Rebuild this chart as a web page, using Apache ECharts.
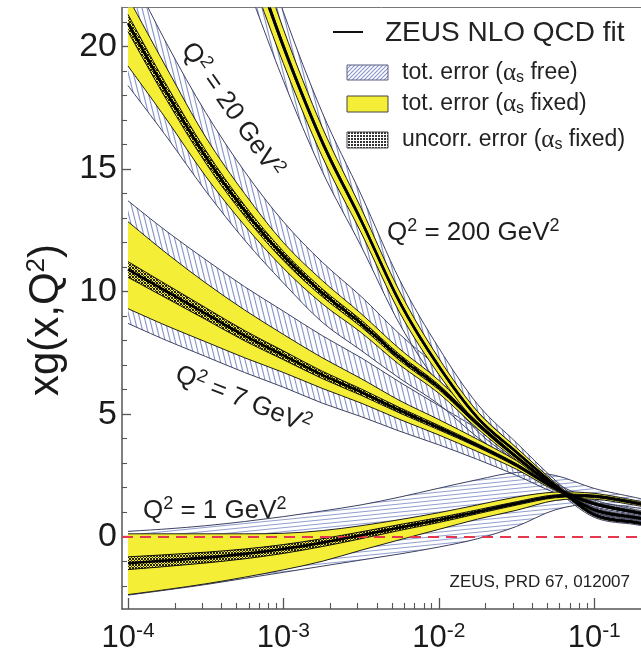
<!DOCTYPE html>
<html>
<head>
<meta charset="utf-8">
<script src="https://cdn.jsdelivr.net/npm/echarts@6/dist/echarts.min.js"></script>
<style>
  html, body { margin: 0; padding: 0; background: #ffffff; }
  #chart { width: 641px; height: 654px; }
</style>
</head>
<body>
<div id="chart"></div>
<script>
// log10(x) positions at which the gluon momentum densities are tabulated
const LOG_X = [-4, -3.75, -3.5, -3.25, -3, -2.75, -2.5, -2.25, -2, -1.75, -1.5, -1.25, -1, -0.75, -0.69];

// Q^2 = 1 GeV^2
const Q1_FIT       = [-1.08, -0.97, -0.85, -0.70, -0.50, -0.24, 0.06, 0.38, 0.68, 1.02, 1.36, 1.65, 1.65, 1.40, 1.32];
const Q1_FIXED_LO  = [-2.36, -2.15, -1.92, -1.65, -1.35, -1.00, -0.55, -0.12, 0.30, 0.72, 1.08, 1.48, 1.53, 1.30, 1.22];
const Q1_FIXED_HI  = [0.12, 0.12, 0.12, 0.12, 0.14, 0.25, 0.45, 0.70, 0.98, 1.30, 1.62, 1.82, 1.77, 1.50, 1.42];
const Q1_FREE_LO   = [-2.38, -2.17, -1.95, -1.70, -1.45, -1.20, -0.95, -0.70, -0.42, -0.08, 0.42, 1.10, 1.35, 1.20, 1.12];
const Q1_FREE_HI   = [0.22, 0.32, 0.45, 0.62, 0.82, 1.05, 1.30, 1.62, 1.98, 2.33, 2.62, 2.50, 1.97, 1.62, 1.54];
const Q1_UNCORR    = [0.26, 0.24, 0.22, 0.20, 0.18, 0.16, 0.14, 0.12, 0.10, 0.08, 0.07, 0.06, 0.05, 0.05, 0.05];

// Q^2 = 7 GeV^2
const Q7_FIT       = [10.9, 10.0, 9.1, 8.2, 7.4, 6.6, 5.9, 5.15, 4.45, 3.72, 2.92, 1.97, 1.35, 1.02, 0.95];
const Q7_FIXED_LO  = [9.3, 8.6, 7.95, 7.3, 6.7, 6.05, 5.45, 4.78, 4.15, 3.47, 2.75, 1.88, 1.29, 0.97, 0.90];
const Q7_FIXED_HI  = [12.85, 11.55, 10.35, 9.25, 8.25, 7.3, 6.45, 5.55, 4.78, 3.97, 3.1, 2.07, 1.42, 1.08, 1.01];
const Q7_FREE_LO   = [8.7, 8.0, 7.35, 6.7, 6.1, 5.45, 4.9, 4.3, 3.75, 3.15, 2.5, 1.78, 1.22, 0.92, 0.85];
const Q7_FREE_HI   = [13.7, 12.45, 11.3, 10.2, 9.2, 8.2, 7.3, 6.3, 5.35, 4.4, 3.4, 2.2, 1.5, 1.13, 1.06];
const Q7_UNCORR    = [0.32, 0.28, 0.24, 0.21, 0.18, 0.15, 0.13, 0.11, 0.09, 0.07, 0.06, 0.05, 0.04, 0.04, 0.04];

// Q^2 = 20 GeV^2
const Q20_FIT      = [20.95, 18.1, 15.5, 13.3, 11.45, 9.95, 8.7, 7.3, 6.1, 4.6, 3.25, 2.02, 1.10, 0.80, 0.74];
const Q20_FIXED_LO = [19.2, 17.0, 14.7, 12.7, 10.95, 9.5, 8.33, 7.0, 5.85, 4.4, 3.12, 1.96, 1.05, 0.76, 0.70];
const Q20_FIXED_HI = [22.0, 19.1, 16.3, 14.0, 12.0, 10.45, 9.1, 7.65, 6.38, 4.8, 3.4, 2.09, 1.15, 0.84, 0.78];
const Q20_FREE_LO  = [18.4, 16.3, 14.1, 12.1, 10.35, 8.75, 7.6, 6.45, 5.4, 4.05, 2.95, 1.90, 1.00, 0.72, 0.66];
const Q20_FREE_HI  = [23.2, 20.1, 17.3, 14.9, 12.85, 11.2, 9.8, 8.25, 6.85, 5.1, 3.6, 2.16, 1.20, 0.88, 0.82];
const Q20_UNCORR   = [0.35, 0.30, 0.26, 0.22, 0.19, 0.16, 0.14, 0.12, 0.10, 0.08, 0.06, 0.05, 0.04, 0.04, 0.04];

// Q^2 = 200 GeV^2 (leaves the frame above x ~ 8e-4)
const Q200_FIT      = [null, null, null, 24.5, 20.0, 16.1, 12.9, 9.55, 6.95, 4.85, 3.45, 2.10, 0.90, 0.60, 0.54];
const Q200_FIXED_LO = [null, null, null, 23.6, 19.3, 15.5, 12.4, 9.12, 6.62, 4.6, 3.27, 2.00, 0.84, 0.55, 0.49];
const Q200_FIXED_HI = [null, null, null, 25.4, 20.7, 16.7, 13.4, 9.98, 7.28, 5.1, 3.63, 2.20, 0.96, 0.65, 0.59];
const Q200_FREE_LO  = [null, null, null, 22.8, 18.6, 14.9, 11.85, 8.65, 6.2, 4.3, 3.07, 1.90, 0.79, 0.51, 0.45];
const Q200_FREE_HI  = [null, null, null, 26.2, 21.4, 17.3, 13.95, 10.45, 7.7, 5.4, 3.83, 2.30, 1.01, 0.69, 0.63];
const Q200_UNCORR   = [null, null, null, 0.15, 0.12, 0.10, 0.08, 0.07, 0.06, 0.05, 0.04, 0.03, 0.03, 0.03, 0.03];

// axis ticks
const X_DECADES = [-4, -3, -2, -1];
const Y_TICKS = [0, 5, 10, 15, 20];

const X_MIN = -4.0386, X_MAX = -0.699;
const Y_MIN = -2.947, Y_MAX = 21.585;

const FONT = '"Liberation Sans", Arial, Helvetica, sans-serif';
const SERIF = '"Liberation Serif", "DejaVu Serif", serif';
const YELLOW = '#f5ee36';
const HATCH_INK = '#8593c9';

// ---- fill patterns ----
function tile(w, h, paint) {
  const c = document.createElement('canvas');
  c.width = w; c.height = h;
  paint(c.getContext('2d'));
  return { image: c, repeat: 'repeat' };
}
// steep "\" hatching for the falling bands
const steepHatch = tile(5, 20, g => {
  g.strokeStyle = HATCH_INK; g.lineWidth = 1.1;
  [-5, 0, 5].forEach(dx => { g.beginPath(); g.moveTo(dx, 0); g.lineTo(dx + 5, 20); g.stroke(); });
});
// nearly flat hatching for the rising low-Q2 band
const flatHatch = tile(40, 4, g => {
  g.strokeStyle = HATCH_INK; g.lineWidth = 0.9;
  [-4, 0, 4].forEach(dy => { g.beginPath(); g.moveTo(0, 4 + dy); g.lineTo(40, dy); g.stroke(); });
});
// stippled fill for the uncorrelated error
const stipple = tile(3, 3, g => {
  g.fillStyle = 'rgba(15,15,15,0.92)'; g.fillRect(0, 0, 2, 2); g.fillRect(2, 2, 1, 1);
});
const legendHatch = tile(4, 4, g => {
  g.strokeStyle = HATCH_INK; g.lineWidth = 1.1;
  [[-1, 1, 1, -1], [0, 4, 4, 0], [3, 5, 5, 3]].forEach(s => {
    g.beginPath(); g.moveTo(s[0], s[1]); g.lineTo(s[2], s[3]); g.stroke();
  });
});
const legendStipple = tile(3, 3, g => {
  g.fillStyle = '#ffffff'; g.fillRect(0, 0, 3, 3);
  g.fillStyle = '#333333'; g.fillRect(0, 0, 2, 2);
});

// ---- drawing helpers ----
// Catmull-Rom curve through pixel points, written as cubic Bezier path commands
function curvePath(pts, start) {
  let d = start + pts[0][0].toFixed(2) + ' ' + pts[0][1].toFixed(2);
  for (let i = 0; i < pts.length - 1; i++) {
    const p0 = pts[i - 1] || pts[i], p1 = pts[i], p2 = pts[i + 1], p3 = pts[i + 2] || p2;
    const c1x = p1[0] + (p2[0] - p0[0]) / 6, c1y = p1[1] + (p2[1] - p0[1]) / 6;
    const c2x = p2[0] - (p3[0] - p1[0]) / 6, c2y = p2[1] - (p3[1] - p1[1]) / 6;
    d += ' C' + [c1x, c1y, c2x, c2y, p2[0], p2[1]].map(v => v.toFixed(2)).join(' ');
  }
  return d;
}
function clipRect(params) {
  const cs = params.coordSys;
  return { type: 'rect', shape: { x: cs.x, y: cs.y, width: cs.width, height: cs.height } };
}
// band between two boundaries: rows of [log10 x, low, high]
function bandSeries(lo, hi, fill, edge, edgeWidth, z) {
  const rows = [];
  LOG_X.forEach((L, i) => { if (lo[i] !== null) rows.push([L, lo[i], hi[i]]); });
  return {
    type: 'custom', coordinateSystem: 'cartesian2d', silent: true, animation: false, z: z,
    data: rows, encode: { x: 0, y: [1, 2] },
    renderItem: (params, api) => {
      if (params.dataIndex !== 0) return null;
      const up = rows.map(r => api.coord([r[0], r[2]]));
      const dn = rows.map(r => api.coord([r[0], r[1]]));
      const area = curvePath(up, 'M') + ' ' + curvePath(dn.slice().reverse(), 'L') + ' Z';
      return {
        type: 'group', clipPath: clipRect(params),
        children: [
          { type: 'path', shape: { pathData: area }, style: { fill: fill, stroke: null } },
          { type: 'path', shape: { pathData: curvePath(up, 'M') }, style: { fill: null, stroke: edge, lineWidth: edgeWidth } },
          { type: 'path', shape: { pathData: curvePath(dn, 'M') }, style: { fill: null, stroke: edge, lineWidth: edgeWidth } }
        ]
      };
    }
  };
}
function fitSeries(vals, z) {
  const rows = [];
  LOG_X.forEach((L, i) => { if (vals[i] !== null) rows.push([L, vals[i]]); });
  return {
    type: 'custom', coordinateSystem: 'cartesian2d', silent: true, animation: false, z: z,
    data: rows, encode: { x: 0, y: 1 },
    renderItem: (params, api) => {
      if (params.dataIndex !== 0) return null;
      const pts = rows.map(r => api.coord([r[0], r[1]]));
      return {
        type: 'group', clipPath: clipRect(params),
        children: [{ type: 'path', shape: { pathData: curvePath(pts, 'M') }, style: { fill: null, stroke: '#000000', lineWidth: 2.6 } }]
      };
    }
  };
}
function shifted(center, err, sign) {
  return center.map((v, i) => (v === null ? null : v + sign * err[i]));
}

const CURVES = [
  { fit: Q1_FIT, fLo: Q1_FIXED_LO, fHi: Q1_FIXED_HI, aLo: Q1_FREE_LO, aHi: Q1_FREE_HI, unc: Q1_UNCORR, hatch: flatHatch },
  { fit: Q7_FIT, fLo: Q7_FIXED_LO, fHi: Q7_FIXED_HI, aLo: Q7_FREE_LO, aHi: Q7_FREE_HI, unc: Q7_UNCORR, hatch: steepHatch },
  { fit: Q20_FIT, fLo: Q20_FIXED_LO, fHi: Q20_FIXED_HI, aLo: Q20_FREE_LO, aHi: Q20_FREE_HI, unc: Q20_UNCORR, hatch: steepHatch },
  { fit: Q200_FIT, fLo: Q200_FIXED_LO, fHi: Q200_FIXED_HI, aLo: Q200_FREE_LO, aHi: Q200_FREE_HI, unc: Q200_UNCORR, hatch: steepHatch }
];

const series = [];
CURVES.forEach(c => series.push(bandSeries(c.aLo, c.aHi, c.hatch, '#3d4160', 1, 2)));
CURVES.forEach(c => series.push(bandSeries(c.fLo, c.fHi, YELLOW, '#1c1c1c', 1, 3)));
CURVES.forEach(c => series.push(bandSeries(shifted(c.fit, c.unc, -1), shifted(c.fit, c.unc, 1), stipple, '#111111', 1, 4)));
CURVES.forEach(c => series.push(fitSeries(c.fit, 5)));
// xg = 0 reference line
series.push({
  type: 'line', data: [], silent: true, animation: false, z: 8,
  markLine: {
    silent: true, symbol: 'none', animation: false, label: { show: false },
    lineStyle: { color: '#e5384f', width: 2, type: [11, 7] },
    data: [{ yAxis: 0 }]
  }
});

// minor tick positions on the log-x axis (2..9 within each decade)
const X_MINOR = [];
X_DECADES.forEach(n => { for (let k = 2; k <= 9; k++) { const p = n + Math.log10(k); if (p < X_MAX) X_MINOR.push(p); } });
const Y_MINOR = [];
for (let v = -2; v <= 21; v++) if (v % 5 !== 0) Y_MINOR.push(v);

const AXIS_INK = '#555555';
const option = {
  backgroundColor: '#ffffff',
  animation: false,
  grid: { left: 122, right: 0, top: 7.5, bottom: 43, containLabel: false },
  xAxis: [
    {
      type: 'value', min: X_MIN, max: X_MAX, position: 'bottom',
      axisLine: { show: true, onZero: false, lineStyle: { color: AXIS_INK, width: 1.5 } },
      axisTick: { show: true, inside: true, length: 11, customValues: X_DECADES, lineStyle: { color: AXIS_INK, width: 1.3 } },
      axisLabel: {
        show: true, customValues: X_DECADES, margin: 12, color: '#1a1a1a',
        formatter: v => '{b|10}{e|' + Math.round(v) + '}',
        rich: {
          b: { fontSize: 31, fontFamily: FONT, color: '#1a1a1a' },
          e: { fontSize: 21, fontFamily: FONT, color: '#1a1a1a', padding: [0, 0, 14, 0] }
        }
      },
      splitLine: { show: false }
    },
    {
      type: 'value', min: X_MIN, max: X_MAX, position: 'bottom',
      axisLine: { show: false, onZero: false },
      axisTick: { show: true, inside: true, length: 6, customValues: X_MINOR, lineStyle: { color: AXIS_INK, width: 1.1 } },
      axisLabel: { show: false }, splitLine: { show: false }
    },
    {
      type: 'value', min: X_MIN, max: X_MAX, position: 'top',
      axisLine: { show: true, onZero: false, lineStyle: { color: '#777777', width: 1 } },
      axisTick: { show: false }, axisLabel: { show: false }, splitLine: { show: false }
    }
  ],
  yAxis: [
    {
      type: 'value', min: Y_MIN, max: Y_MAX, position: 'left',
      axisLine: { show: true, onZero: false, lineStyle: { color: AXIS_INK, width: 1.5 } },
      axisTick: { show: true, inside: true, length: 9, customValues: Y_TICKS, lineStyle: { color: AXIS_INK, width: 1.3 } },
      axisLabel: { show: true, customValues: Y_TICKS, margin: 5, fontSize: 34, fontFamily: FONT, color: '#1a1a1a' },
      splitLine: { show: false }
    },
    {
      type: 'value', min: Y_MIN, max: Y_MAX, position: 'left',
      axisLine: { show: false, onZero: false },
      axisTick: { show: true, inside: true, length: 5, customValues: Y_MINOR, lineStyle: { color: AXIS_INK, width: 1.1 } },
      axisLabel: { show: false }, splitLine: { show: false }
    }
  ],
  series: series,
  graphic: [
    // axis title
    {
      type: 'text', x: 46, y: 320, rotation: Math.PI / 2, z: 20,
      style: {
        text: '{t|xg(x,Q}{s|2}{t|)}', align: 'center', verticalAlign: 'middle',
        rich: {
          t: { fontSize: 42, fontFamily: FONT, fill: '#1a1a1a' },
          s: { fontSize: 26, fontFamily: FONT, fill: '#1a1a1a', padding: [0, 0, 18, 0] }
        }
      }
    },
    // legend
    { type: 'line', z: 20, shape: { x1: 333, y1: 32, x2: 363, y2: 32 }, style: { stroke: '#111111', lineWidth: 2 } },
    { type: 'text', x: 385, y: 33, z: 20, style: { text: 'ZEUS NLO QCD fit', fontSize: 28, fontFamily: FONT, fill: '#222222', verticalAlign: 'middle' } },
    { type: 'rect', z: 20, shape: { x: 347, y: 65, width: 41, height: 15 }, style: { fill: legendHatch, stroke: '#5a5f80', lineWidth: 1 } },
    { type: 'rect', z: 20, shape: { x: 347, y: 96, width: 41, height: 16 }, style: { fill: YELLOW, stroke: '#444444', lineWidth: 1 } },
    { type: 'rect', z: 20, shape: { x: 347, y: 132, width: 41, height: 16 }, style: { fill: legendStipple, stroke: '#444444', lineWidth: 1 } },
    ...[['tot. error (', ' free)', 73], ['tot. error (', ' fixed)', 104], ['uncorr. error (', ' fixed)', 140]].map(r => ({
      type: 'text', x: 402, y: r[2], z: 20,
      style: {
        text: '{t|' + r[0] + '}{a|\u03b1}{s|s}{t|' + r[1] + '}', verticalAlign: 'middle',
        rich: {
          t: { fontSize: 23, fontFamily: FONT, fill: '#222222' },
          a: { fontSize: 25, fontFamily: SERIF, fill: '#222222' },
          s: { fontSize: 16, fontFamily: FONT, fill: '#222222', padding: [9, 0, 0, 0] }
        }
      }
    })),
    // curve annotations
    ...[
      { t: '200', x: 387, y: 233, r: 0, a: 'left' },
      { t: '1', x: 143, y: 511, r: 0, a: 'left' },
      { t: '20', x: 232, y: 110, r: -0.96, a: 'center' },
      { t: '7', x: 243, y: 400, r: -0.38, a: 'center' }
    ].map(o => ({
      type: 'text', x: o.x, y: o.y, rotation: o.r, z: 20,
      style: {
        text: '{t|Q}{s|2}{t| = ' + o.t + ' GeV}{s|2}', align: o.a, verticalAlign: 'middle',
        rich: {
          t: { fontSize: 26, fontFamily: FONT, fill: '#1e1e1e' },
          s: { fontSize: 18, fontFamily: FONT, fill: '#1e1e1e', padding: [0, 0, 13, 0] }
        }
      }
    })),
    { type: 'text', x: 630, y: 582, z: 20, style: { text: 'ZEUS, PRD 67, 012007', fontSize: 17, fontFamily: FONT, fill: '#222222', align: 'right', verticalAlign: 'middle' } }
  ]
};

const chart = echarts.init(document.getElementById('chart'), null, { renderer: 'canvas' });
chart.setOption(option);
</script>
</body>
</html>
